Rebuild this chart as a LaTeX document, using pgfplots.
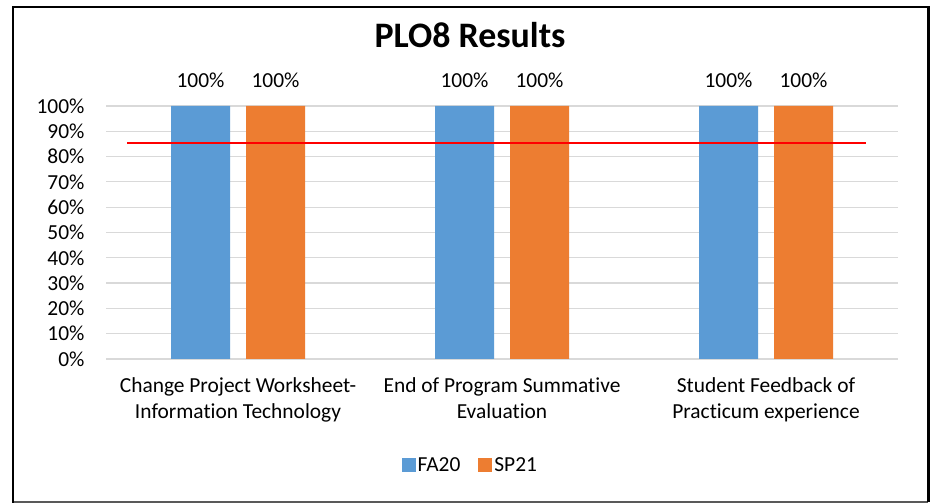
\documentclass[border=0pt]{standalone}
\usepackage{pgfplots}
\pgfplotsset{compat=1.18}
\usepackage{fontspec}
\setmainfont[Ligatures=NoCommon]{Carlito}
\definecolor{cblue}{HTML}{5B9BD5}
\definecolor{corange}{HTML}{ED7D31}
\definecolor{cgrid}{HTML}{D9D9D9}
\begin{document}
\begin{tikzpicture}
\useasboundingbox (0,0) rectangle (930bp,503bp);
\fill[white] (0,0) rectangle (930bp,503bp);
\draw[line width=2bp, gray!70!black] (13bp,1bp) -- (928bp,1bp);
\draw[line width=1.8bp] (13bp,0bp) -- (13bp,496bp) -- (928bp,496bp);
\draw[line width=3bp] (928bp,1bp) -- (928bp,497bp);
\node[font=\bfseries\fontsize{36}{40}\selectfont] at (470bp,467.5bp) {PLO8 Results};
\begin{axis}[
  at={(106bp,144bp)}, anchor=south west,
  scale only axis, width=792bp, height=253bp,
  xmin=-0.5, xmax=2.5, ymin=0, ymax=100,
  ybar=16bp, bar width=59bp,
  axis line style={draw=none},
  major tick length=0pt,
  ytick={0,10,...,100},
  yticklabel={\pgfmathprintnumber{\tick}\%},
  /pgf/number format/assume math mode=true,
  ymajorgrids, grid style={cgrid, line width=1.2bp},
  yticklabel style={font=\fontsize{21.5}{24}\selectfont, anchor=east, xshift=-18bp},
  xtick={0,1,2},
  xticklabels={{Change Project Worksheet-\\Information Technology},{End of Program Summative\\Evaluation},{Student Feedback of\\Practicum experience}},
  xticklabel style={font=\fontsize{21.5}{26}\selectfont, align=center, anchor=north, yshift=-15.5bp},
  nodes near coords={\pgfmathprintnumber{\pgfplotspointmeta}\%},
  every node near coord/.append style={font=\fontsize{21.5}{24}\selectfont, anchor=base, yshift=18bp},
  legend style={at={(axis description cs:0.46,-0.419)}, anchor=center, draw=none, legend columns=2, font=\fontsize{21.5}{24}\selectfont, nodes={inner sep=2bp}, /tikz/every even column/.append style={column sep=16bp}},
  legend image code/.code={\fill[#1] (0bp,-7bp) rectangle (14bp,7bp);},
]
\addplot[fill=cblue, draw=none] coordinates {(0,100) (1,100) (2,100)};
\addplot[fill=corange, draw=none] coordinates {(0,100) (1,100) (2,100)};
\legend{FA20,SP21}
\addplot[red, line width=1.4bp, sharp plot, forget plot, nodes near coords={}, bar shift=0pt] coordinates {(-0.42,85.4) (2.38,85.4)};
\end{axis}
\end{tikzpicture}
\end{document}
